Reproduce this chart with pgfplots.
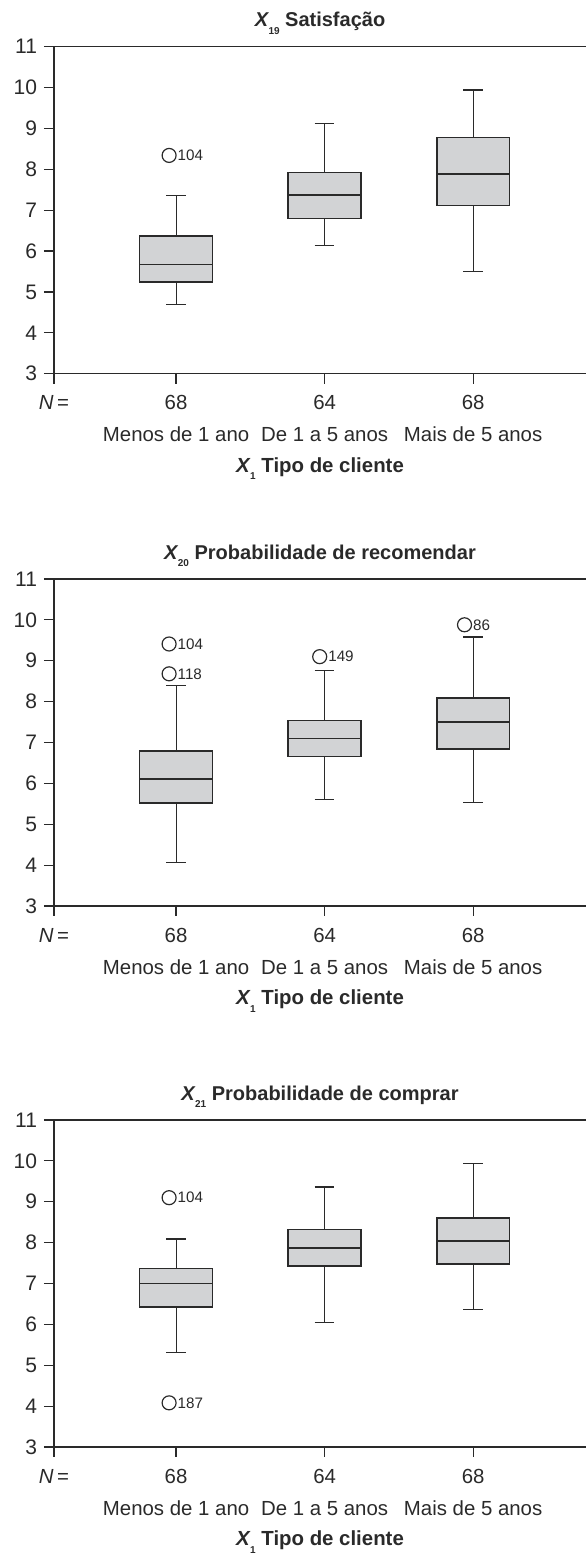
\documentclass[border=0pt]{standalone}
\usepackage{fontspec}
\setmainfont{Liberation Sans}
\usepackage{pgfplots}
\pgfplotsset{compat=1.18}
\usepgfplotslibrary{statistics}

\definecolor{boxfill}{HTML}{D2D3D5}
\definecolor{ink}{HTML}{2A2A2A}

% X with a tiny bold subscript, as in the SPSS output
\newcommand{\sub}[1]{\raisebox{-3.8pt}{\fontsize{5}{5}\selectfont\bfseries #1}}
\newcommand{\xvar}[1]{\textbf{\textit{X}}\kern-0.3pt\sub{#1}}

\pgfplotsset{
  panel/.style={
    width=266pt, height=163.5pt, scale only axis,
    anchor=north west,
    xmin=0.178, xmax=3.76, ymin=3, ymax=11,
    ytick={3,...,11},
    xtick={0.178,1,2,3},
    xticklabels={{\textit{N}\,=}, {68\\Menos de 1 ano}, {64\\De 1 a 5 anos}, {68\\Mais de 5 anos}},
    axis x line=box, axis y line=left,
    axis line style={-, ink, line width=0.6pt},
    xtick pos=left, ytick pos=left,
    tick align=outside, major tick length=5pt,
    tick style={ink, line width=0.6pt},
    /pgf/number format/assume math mode=true,
    x tick label style={font=\fontsize{10.2}{16}\selectfont, align=center, text=ink, yshift=-2.5pt},
    y tick label style={font=\fontsize{10.5}{12}\selectfont, text=ink},
    title style={font=\fontsize{10}{12}\selectfont\bfseries, text=ink,
      at={(axis description cs:0.5,1)}, anchor=base, yshift=4pt},
    xlabel={\xvar{1} Tipo de cliente},
    xlabel style={font=\fontsize{10.2}{12}\selectfont\bfseries, text=ink,
      at={(axis description cs:0.5,0)}, anchor=base, yshift=-49.3pt},
    boxplot/draw direction=y,
    boxplot={box extend=0.49, whisker extend=0.133,
      every box/.style={draw=ink, fill=boxfill, line width=0.8pt},
      every whisker/.style={ink, line width=0.55pt},
      every median/.style={ink, line width=0.9pt}},
  },
  outl/.style={only marks, mark=o, mark size=3.5pt,
    mark options={ink, line width=0.6pt},
    nodes near coords, point meta=explicit symbolic,
    every node near coord/.append style={anchor=west, inner sep=0pt, xshift=4pt,
      font=\fontsize{7.6}{8}\selectfont, text=ink}},
}

\begin{document}
\begin{tikzpicture}
\path[use as bounding box] (0pt,0pt) rectangle (293pt,-778.5pt);

% X19 Satisfacao
\begin{axis}[panel, at={(27pt,-23.35pt)}, title={\xvar{19} Satisfação}]
  \addplot[boxplot prepared={draw position=1, lower whisker=4.70, lower quartile=5.24,
    median=5.67, upper quartile=6.37, upper whisker=7.36}] coordinates {};
  \addplot[boxplot prepared={draw position=2, lower whisker=6.13, lower quartile=6.80,
    median=7.37, upper quartile=7.92, upper whisker=9.12}] coordinates {};
  \addplot[boxplot prepared={draw position=3, lower whisker=5.50, lower quartile=7.11,
    median=7.89, upper quartile=8.78, upper whisker=9.94}] coordinates {};
  \addplot[outl] coordinates {(0.953,8.34) [104]};
\end{axis}

% X20 Probabilidade de recomendar
\begin{axis}[panel, at={(27pt,-289.5pt)}, title={\xvar{20} Probabilidade de recomendar}]
  \addplot[boxplot prepared={draw position=1, lower whisker=4.07, lower quartile=5.52,
    median=6.10, upper quartile=6.79, upper whisker=8.39}] coordinates {};
  \addplot[boxplot prepared={draw position=2, lower whisker=5.60, lower quartile=6.66,
    median=7.10, upper quartile=7.54, upper whisker=8.76}] coordinates {};
  \addplot[boxplot prepared={draw position=3, lower whisker=5.53, lower quartile=6.84,
    median=7.50, upper quartile=8.09, upper whisker=9.58}] coordinates {};
  \addplot[outl] coordinates {(0.953,9.41) [104] (0.953,8.68) [118]
    (1.967,9.10) [149] (2.942,9.88) [86]};
\end{axis}

% X21 Probabilidade de comprar
\begin{axis}[panel, at={(27pt,-560pt)}, title={\xvar{21} Probabilidade de comprar}]
  \addplot[boxplot prepared={draw position=1, lower whisker=5.32, lower quartile=6.42,
    median=7.00, upper quartile=7.37, upper whisker=8.09}] coordinates {};
  \addplot[boxplot prepared={draw position=2, lower whisker=6.04, lower quartile=7.43,
    median=7.87, upper quartile=8.32, upper whisker=9.36}] coordinates {};
  \addplot[boxplot prepared={draw position=3, lower whisker=6.36, lower quartile=7.48,
    median=8.04, upper quartile=8.61, upper whisker=9.93}] coordinates {};
  \addplot[outl] coordinates {(0.953,9.10) [104] (0.953,4.08) [187]};
\end{axis}
\end{tikzpicture}
\end{document}
